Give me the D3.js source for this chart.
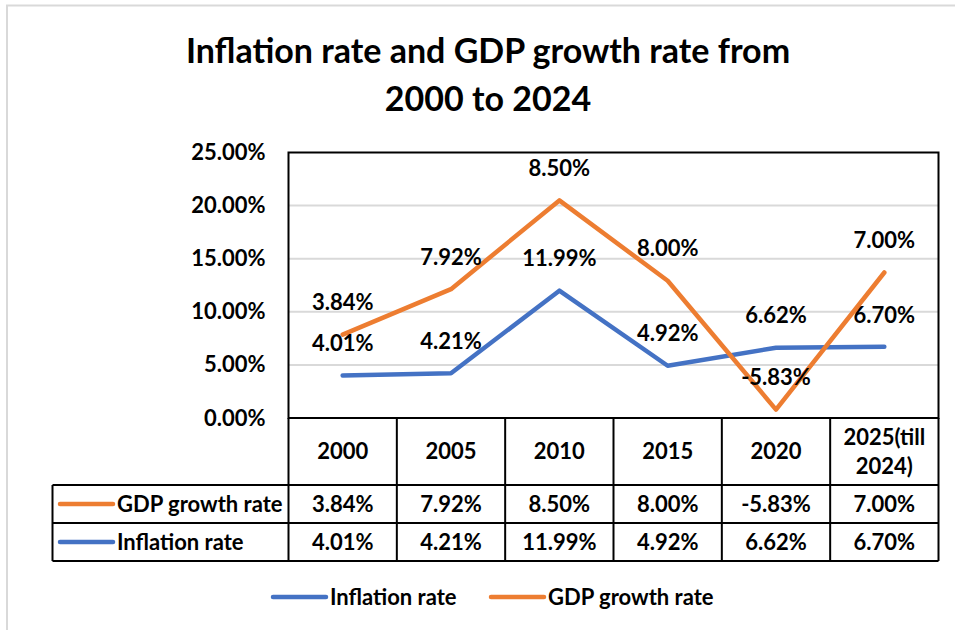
<!DOCTYPE html>
<html>
<head>
<meta charset="utf-8">
<script src="https://cdn.jsdelivr.net/npm/d3@7"></script>
<style>
  body { margin: 0; background: #fff; }
  text { font-family: Lato, "Open Sans", sans-serif; font-weight: bold; fill: #000; }
</style>
</head>
<body>
<svg id="chart" width="955" height="630"></svg>
<script>
// Data
const categories = ["2000", "2005", "2010", "2015", "2020", "2025(till 2024)"];
const inflation = [4.01, 4.21, 11.99, 4.92, 6.62, 6.70];
const gdpGrowth = [3.84, 7.92, 8.50, 8.00, -5.83, 7.00];
const yTicks = [0, 5, 10, 15, 20, 25];
const seriesNames = {inflation: "Inflation rate", gdp: "GDP growth rate"};
const titleLines = ["Inflation rate and GDP growth rate from", "2000 to 2024"];

const BLUE = "#4472C4", ORANGE = "#ED7D31", GRID = "#d9d9d9";
const FS = 22;

// plain hyphen for negatives, like the spreadsheet
const pct = d3.formatLocale({decimal: ".", thousands: ",", grouping: [3], currency: ["", ""], minus: "-"})
    .format(".2f");
const fmt = v => pct(v) + "%";

const svg = d3.select("#chart");

// outer chart frame (light gray)
svg.append("path")
    .attr("d", "M7,640 V5.5 H965")
    .attr("fill", "none")
    .attr("stroke", GRID)
    .attr("stroke-width", 2);

// title
svg.append("text")
    .attr("text-anchor", "middle")
    .attr("font-size", 34)
    .selectAll("tspan")
    .data(titleLines)
    .join("tspan")
    .attr("x", 488)
    .attr("y", (d, i) => 63 + i * 48)
    .text(d => d);

// plot area
const plot = {left: 288.5, right: 938.5, top: 152.5, bottom: 418};
const x = d3.scaleBand().domain(categories).range([plot.left, plot.right]);
const y = d3.scaleLinear().domain([0, 25]).range([plot.bottom, plot.top]);

// stacked line: GDP series sits on top of inflation
const rows = categories.map((c, i) => ({cat: c, inflation: inflation[i], gdp: gdpGrowth[i]}));
const stacked = d3.stack().keys(["inflation", "gdp"])(rows);

// gridlines
svg.append("g")
    .selectAll("line")
    .data(yTicks.filter(t => t > 0 && t < 25))
    .join("line")
    .attr("x1", plot.left).attr("x2", plot.right)
    .attr("y1", d => y(d)).attr("y2", d => y(d))
    .attr("stroke", GRID)
    .attr("stroke-width", 2);

// y axis labels
const yAxis = d3.axisLeft(y)
    .tickValues(yTicks)
    .tickSize(0)
    .tickPadding(23)
    .tickFormat(fmt);
const gy = svg.append("g")
    .attr("transform", `translate(${plot.left},0)`)
    .call(yAxis);
gy.select(".domain").remove();
gy.selectAll("text").attr("font-size", FS).attr("font-family", null).attr("fill", "#000");

// lines
const colorOf = {inflation: BLUE, gdp: ORANGE};
const line = d3.line()
    .x(d => x(d.data.cat) + x.bandwidth() / 2)
    .y(d => y(d[1]));

svg.append("g")
    .selectAll("path")
    .data(stacked)
    .join("path")
    .attr("d", line)
    .attr("fill", "none")
    .attr("stroke", s => colorOf[s.key])
    .attr("stroke-width", 4.5)
    .attr("stroke-linejoin", "round")
    .attr("stroke-linecap", "round");

// data labels above each point
svg.append("g")
    .selectAll("g")
    .data(stacked)
    .join("g")
    .selectAll("text")
    .data(s => s.map(d => ({d, key: s.key})))
    .join("text")
    .attr("x", p => x(p.d.data.cat) + x.bandwidth() / 2)
    .attr("y", p => y(p.d[1]) - 32)
    .attr("dy", "0.35em")
    .attr("text-anchor", "middle")
    .attr("font-size", FS)
    .text(p => fmt(p.d.data[p.key]));

// plot border
svg.append("rect")
    .attr("x", plot.left).attr("y", plot.top)
    .attr("width", plot.right - plot.left).attr("height", plot.bottom - plot.top)
    .attr("fill", "none")
    .attr("stroke", "#000")
    .attr("stroke-width", 2);

// data table
const tbl = {left: 52.5, headBottom: 485, rowH: 38};
const tableRows = [
    {key: "gdp", values: gdpGrowth},
    {key: "inflation", values: inflation}
];
const tableBottom = tbl.headBottom + tableRows.length * tbl.rowH;
const T = svg.append("g").attr("stroke", "#000").attr("stroke-width", 2);

// vertical column lines
const colEdges = categories.map(c => x(c)).concat([plot.right]);
T.selectAll("line.col")
    .data(colEdges)
    .join("line")
    .attr("class", "col")
    .attr("x1", d => d).attr("x2", d => d)
    .attr("y1", plot.bottom).attr("y2", tableBottom);
T.append("line")
    .attr("x1", tbl.left).attr("x2", tbl.left)
    .attr("y1", tbl.headBottom).attr("y2", tableBottom);
// horizontal row lines
T.selectAll("line.row")
    .data(d3.range(tableRows.length + 1))
    .join("line")
    .attr("class", "row")
    .attr("x1", tbl.left).attr("x2", plot.right)
    .attr("y1", i => tbl.headBottom + i * tbl.rowH)
    .attr("y2", i => tbl.headBottom + i * tbl.rowH);

// header: categories
svg.append("g")
    .selectAll("text")
    .data(categories)
    .join("text")
    .attr("text-anchor", "middle")
    .attr("font-size", FS)
    .each(function (c) {
        const parts = c.replace("(till ", "(till\n").split("\n");
        const cx = x(c) + x.bandwidth() / 2;
        const cy = (plot.bottom + tbl.headBottom) / 2;
        d3.select(this).selectAll("tspan")
            .data(parts)
            .join("tspan")
            .attr("x", cx)
            .attr("y", (p, i) => cy + (i - (parts.length - 1) / 2) * 29)
            .attr("dy", "0.35em")
            .text(p => p);
    });

// table rows
tableRows.forEach((r, ri) => {
    const cy = tbl.headBottom + ri * tbl.rowH + tbl.rowH / 2;
    svg.append("line")
        .attr("x1", 60).attr("x2", 113)
        .attr("y1", cy).attr("y2", cy)
        .attr("stroke", colorOf[r.key])
        .attr("stroke-width", 4.5)
        .attr("stroke-linecap", "round");
    svg.append("text")
        .attr("x", 117).attr("y", cy).attr("dy", "0.35em")
        .attr("font-size", FS)
        .text(seriesNames[r.key]);
    svg.append("g")
        .selectAll("text")
        .data(r.values)
        .join("text")
        .attr("x", (v, i) => x(categories[i]) + x.bandwidth() / 2)
        .attr("y", cy).attr("dy", "0.35em")
        .attr("text-anchor", "middle")
        .attr("font-size", FS)
        .text(fmt);
});

// legend
const legend = [
    {key: "inflation", x: 273},
    {key: "gdp", x: 491}
];
const lg = svg.append("g").selectAll("g").data(legend).join("g")
    .attr("transform", d => `translate(${d.x},597)`);
lg.append("line")
    .attr("x1", 0).attr("x2", 53)
    .attr("stroke", d => colorOf[d.key])
    .attr("stroke-width", 4.5)
    .attr("stroke-linecap", "round");
lg.append("text")
    .attr("x", 57).attr("dy", "0.35em")
    .attr("font-size", FS)
    .text(d => seriesNames[d.key]);
</script>
</body>
</html>
